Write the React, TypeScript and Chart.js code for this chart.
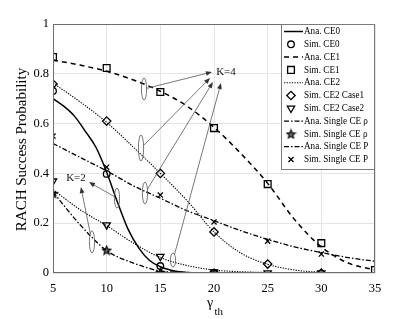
import React, { useEffect, useRef } from 'react';
import { Chart, registerables } from 'chart.js';
import { drawPoint } from 'chart.js/helpers';

Chart.register(...registerables);

// ---- data ----
const xTicks = [5, 10, 15, 20, 25, 30, 35];
const yTicks = [0, 0.2, 0.4, 0.6, 0.8, 1];

const anaX = [5, 7.5, 10, 12.5, 15, 17.5, 20, 22.5, 25, 27.5, 30, 32.5, 35];
const ce0X = [5, 6, 7, 8, 9, 10, 11, 12, 13, 14, 15, 16, 17, 18, 20, 25, 30, 35];
const anaCE0 = [0.70, 0.67, 0.63, 0.57, 0.505, 0.405, 0.285, 0.175, 0.10, 0.05, 0.025, 0.011, 0.004, 0.001, 0, 0, 0, 0];
const anaCE1 = [0.855, 0.835, 0.81, 0.775, 0.73, 0.67, 0.585, 0.48, 0.36, 0.215, 0.105, 0.04, 0.012];
const anaCE2c1 = [0.763, 0.688, 0.605, 0.505, 0.40, 0.29, 0.165, 0.08, 0.035, 0.012, 0.003, 0.001, 0];
const anaCE2c2 = [0.335, 0.255, 0.19, 0.12, 0.062, 0.03, 0.012, 0.005, 0.002, 0.001, 0, 0, 0];
const anaRho = [0.325, 0.195, 0.09, 0.04, 0.008, 0.002, 0, 0, 0, 0, 0, 0, 0];
const anaP = [0.52, 0.465, 0.41, 0.35, 0.30, 0.25, 0.21, 0.17, 0.135, 0.105, 0.082, 0.062, 0.047];

const simX = [5, 10, 15, 20, 25, 30, 35];
const simCE0 = [0.731, 0.398, 0.028, 0];
const simCE1 = [0.867, 0.823, 0.727, 0.582, 0.357, 0.12, 0.012];
const simCE2c1 = [0.759, 0.61, 0.40, 0.165, 0.036, 0];
const simCE2c2 = [0.369, 0.193, 0.066, 0.004, 0, 0];
const simRho = [0.32, 0.092, 0.003, 0];
const simP = [0.55, 0.425, 0.313, 0.205, 0.128, 0.076];

const legendLabels = [
  'Ana. CE0', 'Sim. CE0', 'Ana. CE1', 'Sim. CE1', 'Ana. CE2',
  'Sim. CE2 Case1', 'Sim. CE2 Case2', 'Ana. Single CE \u03c1', 'Sim. Single CE \u03c1',
  'Ana. Single CE P', 'Sim. Single CE P',
];

// annotation groups (data coordinates)
const ellipseX = [13.48, 13.2, 13.57, 16.18, 10.96, 8.63];
const ellipseY = [0.739, 0.502, 0.321, 0.052, 0.301, 0.125];
const ellipseRy = [11, 13, 11, 7, 10, 11];
const arrowToX = [19.81, 19.63, 19.9, 20.65, 8.35, 7.6];
const arrowToY = [0.807, 0.783, 0.767, 0.763, 0.365, 0.345];
const annLabels = ['K=4', 'K=2'];
const annLabelX = [20.2, 7.14];
const annLabelY = [0.807, 0.382];

const pts = (xs: number[], ys: number[]) => ys.map((y, i) => ({ x: xs[i], y }));

function makeStar(size: number) {
  const c = document.createElement('canvas');
  c.width = size; c.height = size;
  const g = c.getContext('2d')!;
  const cx = size / 2, cy = size / 2 + 0.5, R = size / 2 - 1, r = R * 0.45;
  g.beginPath();
  for (let k = 0; k < 10; k++) {
    const a = -Math.PI / 2 + (k * Math.PI) / 5;
    const rr = k % 2 === 0 ? R : r;
    g.lineTo(cx + rr * Math.cos(a), cy + rr * Math.sin(a));
  }
  g.closePath();
  g.fillStyle = '#666';
  g.fill();
  g.lineWidth = 1.1;
  g.strokeStyle = '#000';
  g.stroke();
  return c;
}

const SERIF = '"Liberation Serif", "Times New Roman", serif';

const overlayPlugin = {
  id: 'overlay',
  afterDraw(chart: any) {
    const { ctx, chartArea: a, scales } = chart;
    const xs = scales.x, ys = scales.y;
    ctx.save();
    // axes box
    ctx.strokeStyle = '#6e6e6e';
    ctx.lineWidth = 1;
    ctx.strokeRect(a.left + 0.5, a.top + 0.5, a.right - a.left - 1, a.bottom - a.top - 1);

    // annotations
    ctx.strokeStyle = '#555';
    ctx.fillStyle = '#333';
    ctx.lineWidth = 0.8;
    for (let i = 0; i < ellipseX.length; i++) {
      const cx = xs.getPixelForValue(ellipseX[i]);
      const cy = ys.getPixelForValue(ellipseY[i]);
      const rx = 2.6, ry = ellipseRy[i];
      ctx.beginPath();
      ctx.ellipse(cx, cy, rx, ry, 0, 0, Math.PI * 2);
      ctx.stroke();
      const tx = xs.getPixelForValue(arrowToX[i]);
      const ty = ys.getPixelForValue(arrowToY[i]);
      let dx = tx - cx, dy = ty - cy;
      const L = Math.hypot(dx, dy);
      dx /= L; dy /= L;
      const t = 1 / Math.sqrt((dx / rx) ** 2 + (dy / ry) ** 2);
      const sx = cx + dx * t, sy = cy + dy * t;
      ctx.beginPath();
      ctx.moveTo(sx, sy);
      ctx.lineTo(tx - dx * 5, ty - dy * 5);
      ctx.stroke();
      const hl = 6, hw = 2.4;
      ctx.beginPath();
      ctx.moveTo(tx, ty);
      ctx.lineTo(tx - dx * hl - dy * hw, ty - dy * hl + dx * hw);
      ctx.lineTo(tx - dx * hl + dy * hw, ty - dy * hl - dx * hw);
      ctx.closePath();
      ctx.fill();
    }
    ctx.fillStyle = '#111';
    ctx.font = `11px ${SERIF}`;
    ctx.textBaseline = 'middle';
    ctx.textAlign = 'left';
    ctx.fillText(annLabels[0], xs.getPixelForValue(annLabelX[0]), ys.getPixelForValue(annLabelY[0]));
    ctx.textAlign = 'center';
    ctx.fillText(annLabels[1], xs.getPixelForValue(annLabelX[1]), ys.getPixelForValue(annLabelY[1]));

    // legend
    const bw = 94, bh = 146;
    const bx = a.right - bw, by = a.top;
    ctx.fillStyle = '#fff';
    ctx.fillRect(bx, by, bw, bh);
    ctx.strokeStyle = '#7a7a7a';
    ctx.lineWidth = 1;
    ctx.strokeRect(bx + 0.5, by + 0.5, bw - 1, bh - 1);
    const dsets = chart.data.datasets;
    for (let i = 0; i < legendLabels.length; i++) {
      const d = dsets[i];
      const yy = by + 7.5 + i * 12.8;
      ctx.save();
      ctx.strokeStyle = '#000';
      ctx.fillStyle = 'rgba(0,0,0,0)';
      if (d.showLine !== false) {
        ctx.lineWidth = d.borderWidth;
        ctx.setLineDash(d.borderDash || []);
        ctx.beginPath();
        ctx.moveTo(bx + 3, yy);
        ctx.lineTo(bx + 22, yy);
        ctx.stroke();
      } else {
        ctx.lineWidth = d.pointBorderWidth;
        drawPoint(ctx, {
          pointStyle: d.pointStyle,
          radius: d.pointRadius,
          rotation: d.pointRotation || 0,
          borderWidth: d.pointBorderWidth,
        } as any, bx + 10, yy);
      }
      ctx.restore();
      ctx.save();
      ctx.fillStyle = '#000';
      ctx.font = `10.5px ${SERIF}`;
      ctx.textAlign = 'left';
      ctx.textBaseline = 'middle';
      ctx.translate(bx + 23, yy);
      ctx.scale(0.87, 1);
      ctx.fillText(legendLabels[i], 0, 0);
      ctx.restore();
    }

    // axis titles
    ctx.fillStyle = '#000';
    ctx.save();
    ctx.translate(26, (a.top + a.bottom) / 2 + 1);
    ctx.rotate(-Math.PI / 2);
    ctx.font = `15px ${SERIF}`;
    ctx.textAlign = 'center';
    ctx.textBaseline = 'alphabetic';
    ctx.fillText('RACH Success Probability', 0, 0);
    ctx.restore();
    ctx.textAlign = 'left';
    ctx.textBaseline = 'alphabetic';
    ctx.font = `14px ${SERIF}`;
    ctx.fillText('\u03b3', 207, 307);
    ctx.font = `11px ${SERIF}`;
    ctx.fillText('th', 214.5, 315);
    ctx.restore();
  },
};

export default function App() {
  const ref = useRef<HTMLCanvasElement>(null);
  useEffect(() => {
    const star = makeStar(11);
    const lineDs = (label: string, xs: number[], ys: number[], dash: number[], w: number) => ({
      label, data: pts(xs, ys), borderColor: '#000', borderWidth: w, borderDash: dash,
      pointRadius: 0, fill: false, cubicInterpolationMode: 'monotone' as const, showLine: true,
    });
    const simDs = (label: string, xs: number[], ys: number[], style: any, r: number, rot = 0) => ({
      label, data: pts(xs, ys), showLine: false, pointStyle: style, pointRadius: r,
      pointRotation: rot, pointBorderColor: '#000', pointBackgroundColor: 'rgba(0,0,0,0)',
      pointBorderWidth: 1.3, borderColor: '#000',
    });
    const dashDot = [5, 2, 1.5, 2];
    const chart = new Chart(ref.current!, {
      type: 'scatter',
      data: {
        datasets: [
          lineDs('Ana. CE0', ce0X, anaCE0, [], 1.5),
          simDs('Sim. CE0', simX, simCE0, 'circle', 3.3),
          lineDs('Ana. CE1', anaX, anaCE1, [5, 4], 1.5),
          simDs('Sim. CE1', simX, simCE1, 'rect', 4.8),
          lineDs('Ana. CE2', anaX, anaCE2c1, [1.3, 1.3], 1.1),
          simDs('Sim. CE2 Case1', simX, simCE2c1, 'rectRot', 4.2),
          simDs('Sim. CE2 Case2', simX, simCE2c2, 'triangle', 4.2, 180),
          lineDs('Ana. Single CE rho', anaX, anaRho, dashDot, 1.3),
          simDs('Sim. Single CE rho', simX, simRho, star, 5.5),
          lineDs('Ana. Single CE P', anaX, anaP, dashDot, 1.3),
          simDs('Sim. Single CE P', simX, simP, 'crossRot', 3.6),
          lineDs('Ana. CE2 (case 2)', anaX, anaCE2c2, [1.3, 1.3], 1.1),
        ] as any,
      },
      options: {
        animation: false,
        responsive: false,
        events: [],
        layout: { padding: { top: 24, right: 40, left: 0, bottom: 0 } },
        plugins: { legend: { display: false }, tooltip: { enabled: false } },
        scales: {
          x: {
            type: 'linear', min: 5, max: 35,
            afterBuildTicks: (s: any) => { s.ticks = xTicks.map((v) => ({ value: v })); },
            afterFit: (s: any) => { s.height = 46; },
            grid: { color: '#e4e4e4', drawTicks: false, lineWidth: 1 },
            border: { display: false },
            ticks: { color: '#000', font: { family: SERIF, size: 12.5 }, padding: 8, maxRotation: 0 },
          },
          y: {
            type: 'linear', min: 0, max: 1,
            afterBuildTicks: (s: any) => { s.ticks = yTicks.map((v) => ({ value: v })); },
            afterFit: (s: any) => { s.width = 53; },
            grid: { color: '#e4e4e4', drawTicks: false, lineWidth: 1 },
            border: { display: false },
            ticks: {
              color: '#000', font: { family: SERIF, size: 12.5 }, padding: 4,
              callback: (v: any) => String(Math.round(v * 10) / 10),
            },
          },
        },
      } as any,
      plugins: [overlayPlugin],
    });
    return () => chart.destroy();
  }, []);
  return (
    <div style={{ position: 'fixed', left: 0, top: 0, width: 415, height: 319, background: '#fff' }}>
      <canvas ref={ref} width={415} height={319} style={{ display: 'block' }} />
    </div>
  );
}
